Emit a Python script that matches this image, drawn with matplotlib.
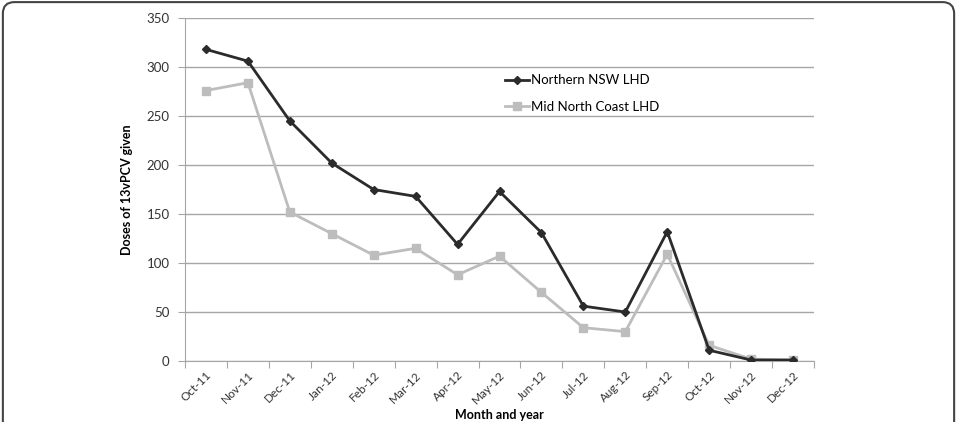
import matplotlib.pyplot as plt
import numpy as np
from matplotlib.patches import FancyBboxPatch

meses = ["Oct-11", "Nov-11", "Dec-11", "Jan-12", "Feb-12", "Mar-12", "Apr-12", "May-12",
         "Jun-12", "Jul-12", "Aug-12", "Sep-12", "Oct-12", "Nov-12", "Dec-12"]
northern_nsw = [318, 306, 245, 202, 175, 168, 119, 173, 131, 56, 50, 132, 11, 1, 1]
mid_north_coast = [276, 284, 152, 130, 108, 115, 88, 107, 70, 34, 30, 109, 16, 2, 1]

plt.rcParams['font.family'] = ['Lato', 'DejaVu Sans']

fig = plt.figure(figsize=(9.57, 4.22), dpi=100)
ax = fig.add_axes([0.1933, 0.1445, 0.6573, 0.8128])

# moldura arredondada em volta da figura
moldura = FancyBboxPatch((0.003, -0.05), 0.994, 1.045, boxstyle="round,pad=0,rounding_size=0.012",
                         transform=fig.transFigure, facecolor="none", edgecolor="#444444",
                         linewidth=1.5, mutation_aspect=957/422, clip_on=False)
fig.patches.append(moldura)

x = np.arange(len(meses))
ax.plot(x, northern_nsw, color="#2b2b2b", linewidth=2.0, marker="D", markersize=4.5,
        label="Northern NSW LHD", zorder=4)
ax.plot(x, mid_north_coast, color="#bdbdbd", linewidth=2.0, marker="s", markersize=6,
        label="Mid North Coast LHD", zorder=3)

ax.set_xlim(-0.5, len(meses) - 0.5)
ax.set_ylim(0, 350)
ax.set_yticks(np.arange(0, 351, 50))
ax.grid(axis="y", color="#a6a6a6", linewidth=1.0)
ax.set_axisbelow(True)

ax.set_xticks(np.arange(-0.5, len(meses)), minor=False)
ax.set_xticklabels([])
ax.set_xticks(x, minor=True)
ax.set_xticklabels(meses, minor=True, rotation=45, ha="right", va="top",
                   rotation_mode="anchor", fontsize=8.5, color="#333333")
ax.tick_params(axis="x", which="minor", length=0, pad=6)
ax.tick_params(axis="x", which="major", length=5, color="#a6a6a6", direction="out")
ax.tick_params(axis="y", length=5, color="#a6a6a6", labelsize=9.5, labelcolor="#333333", pad=6)

for lado in ["top", "right"]:
    ax.spines[lado].set_visible(False)
for lado in ["left", "bottom"]:
    ax.spines[lado].set_color("#a6a6a6")

ax.set_ylabel("Doses of 13vPCV given", fontsize=9, fontweight="bold", labelpad=10)
fig.text(0.522, 0.002, "Month and year", fontsize=9, fontweight="bold",
         ha="center", va="bottom")

ax.legend(loc="upper left", bbox_to_anchor=(0.49, 0.87), frameon=False, fontsize=9.5,
          handlelength=1.8, handletextpad=0.15, labelspacing=1.1, markerscale=0.9)

plt.savefig("out.png", dpi=100)
